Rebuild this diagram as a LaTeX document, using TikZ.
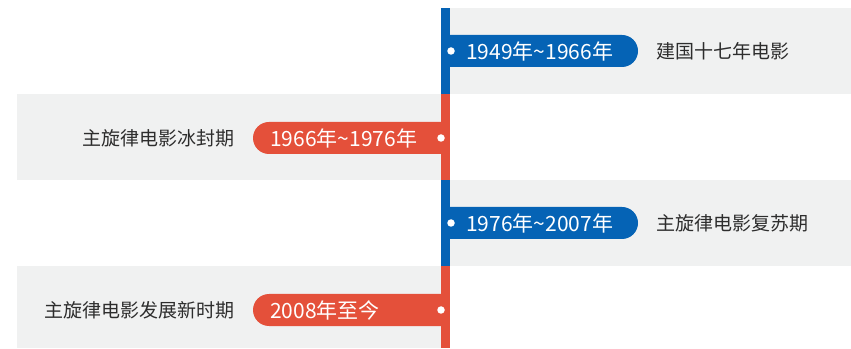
\documentclass[tikz,border=0pt]{standalone}
\usepackage{fontspec}
\setmainfont{Noto Sans CJK SC}
\definecolor{tlblue}{RGB}{5,99,181}
\definecolor{tlred}{RGB}{228,80,58}
\definecolor{panelgray}{RGB}{240,241,241}
\definecolor{labelgray}{RGB}{45,45,45}
\newcommand{\tld}{\char"007E\relax}
\begin{document}
\begin{tikzpicture}[x=1pt,y=1pt,
  datetext/.style={text=white,font=\fontsize{21}{24}\selectfont,inner sep=0pt},
  labeltext/.style={text=labelgray,font=\fontsize{19}{23}\selectfont,inner sep=0pt},
  dotmark/.style={circle,fill=white,inner sep=0pt,minimum size=7.5pt}]
\useasboundingbox (0,0) rectangle (851,348);
\fill[white] (0,0) rectangle (851,348);
% panels
\fill[panelgray] (441,254) rectangle (851,340);
\fill[panelgray] (17,168) rectangle (441,254);
\fill[panelgray] (441,82) rectangle (851,168);
\fill[panelgray] (17,0) rectangle (441,82);
% bar
\fill[tlblue] (441,254) rectangle (450,340);
\fill[tlred] (441,168) rectangle (450,254);
\fill[tlblue] (441,82) rectangle (450,168);
\fill[tlred] (441,0) rectangle (450,82);
% pills
\fill[tlblue] (441,281) -- (622,281) arc[start angle=-90,end angle=90,radius=16] -- (441,313) -- cycle;
\fill[tlred] (441,194) -- (269,194) arc[start angle=270,end angle=90,radius=16] -- (441,226) -- cycle;
\fill[tlblue] (441,109) -- (622,109) arc[start angle=-90,end angle=90,radius=16] -- (441,141) -- cycle;
\fill[tlred] (441,22) -- (269,22) arc[start angle=270,end angle=90,radius=16] -- (441,54) -- cycle;
% dots
\node[dotmark] (d1) at (451,297) {};
\node[dotmark] (d2) at (441,210) {};
\node[dotmark] (d3) at (451,125) {};
\node[dotmark] (d4) at (441,38) {};
% date texts
\node[datetext,anchor=west] (t1) at (466,297) {1949年\tld1966年};
\node[datetext,anchor=west] (t2) at (270,210) {1966年\tld1976年};
\node[datetext,anchor=west] (t3) at (466,125) {1976年\tld2007年};
\node[datetext,anchor=west] (t4) at (270,38) {2008年至今};
% labels
\node[labeltext,anchor=west] (l1) at (656,297) {建国十七年电影};
\node[labeltext,anchor=east] (l2) at (235,210) {主旋律电影冰封期};
\node[labeltext,anchor=west] (l3) at (656,125) {主旋律电影复苏期};
\node[labeltext,anchor=east] (l4) at (235,38) {主旋律电影发展新时期};
\end{tikzpicture}
\end{document}
